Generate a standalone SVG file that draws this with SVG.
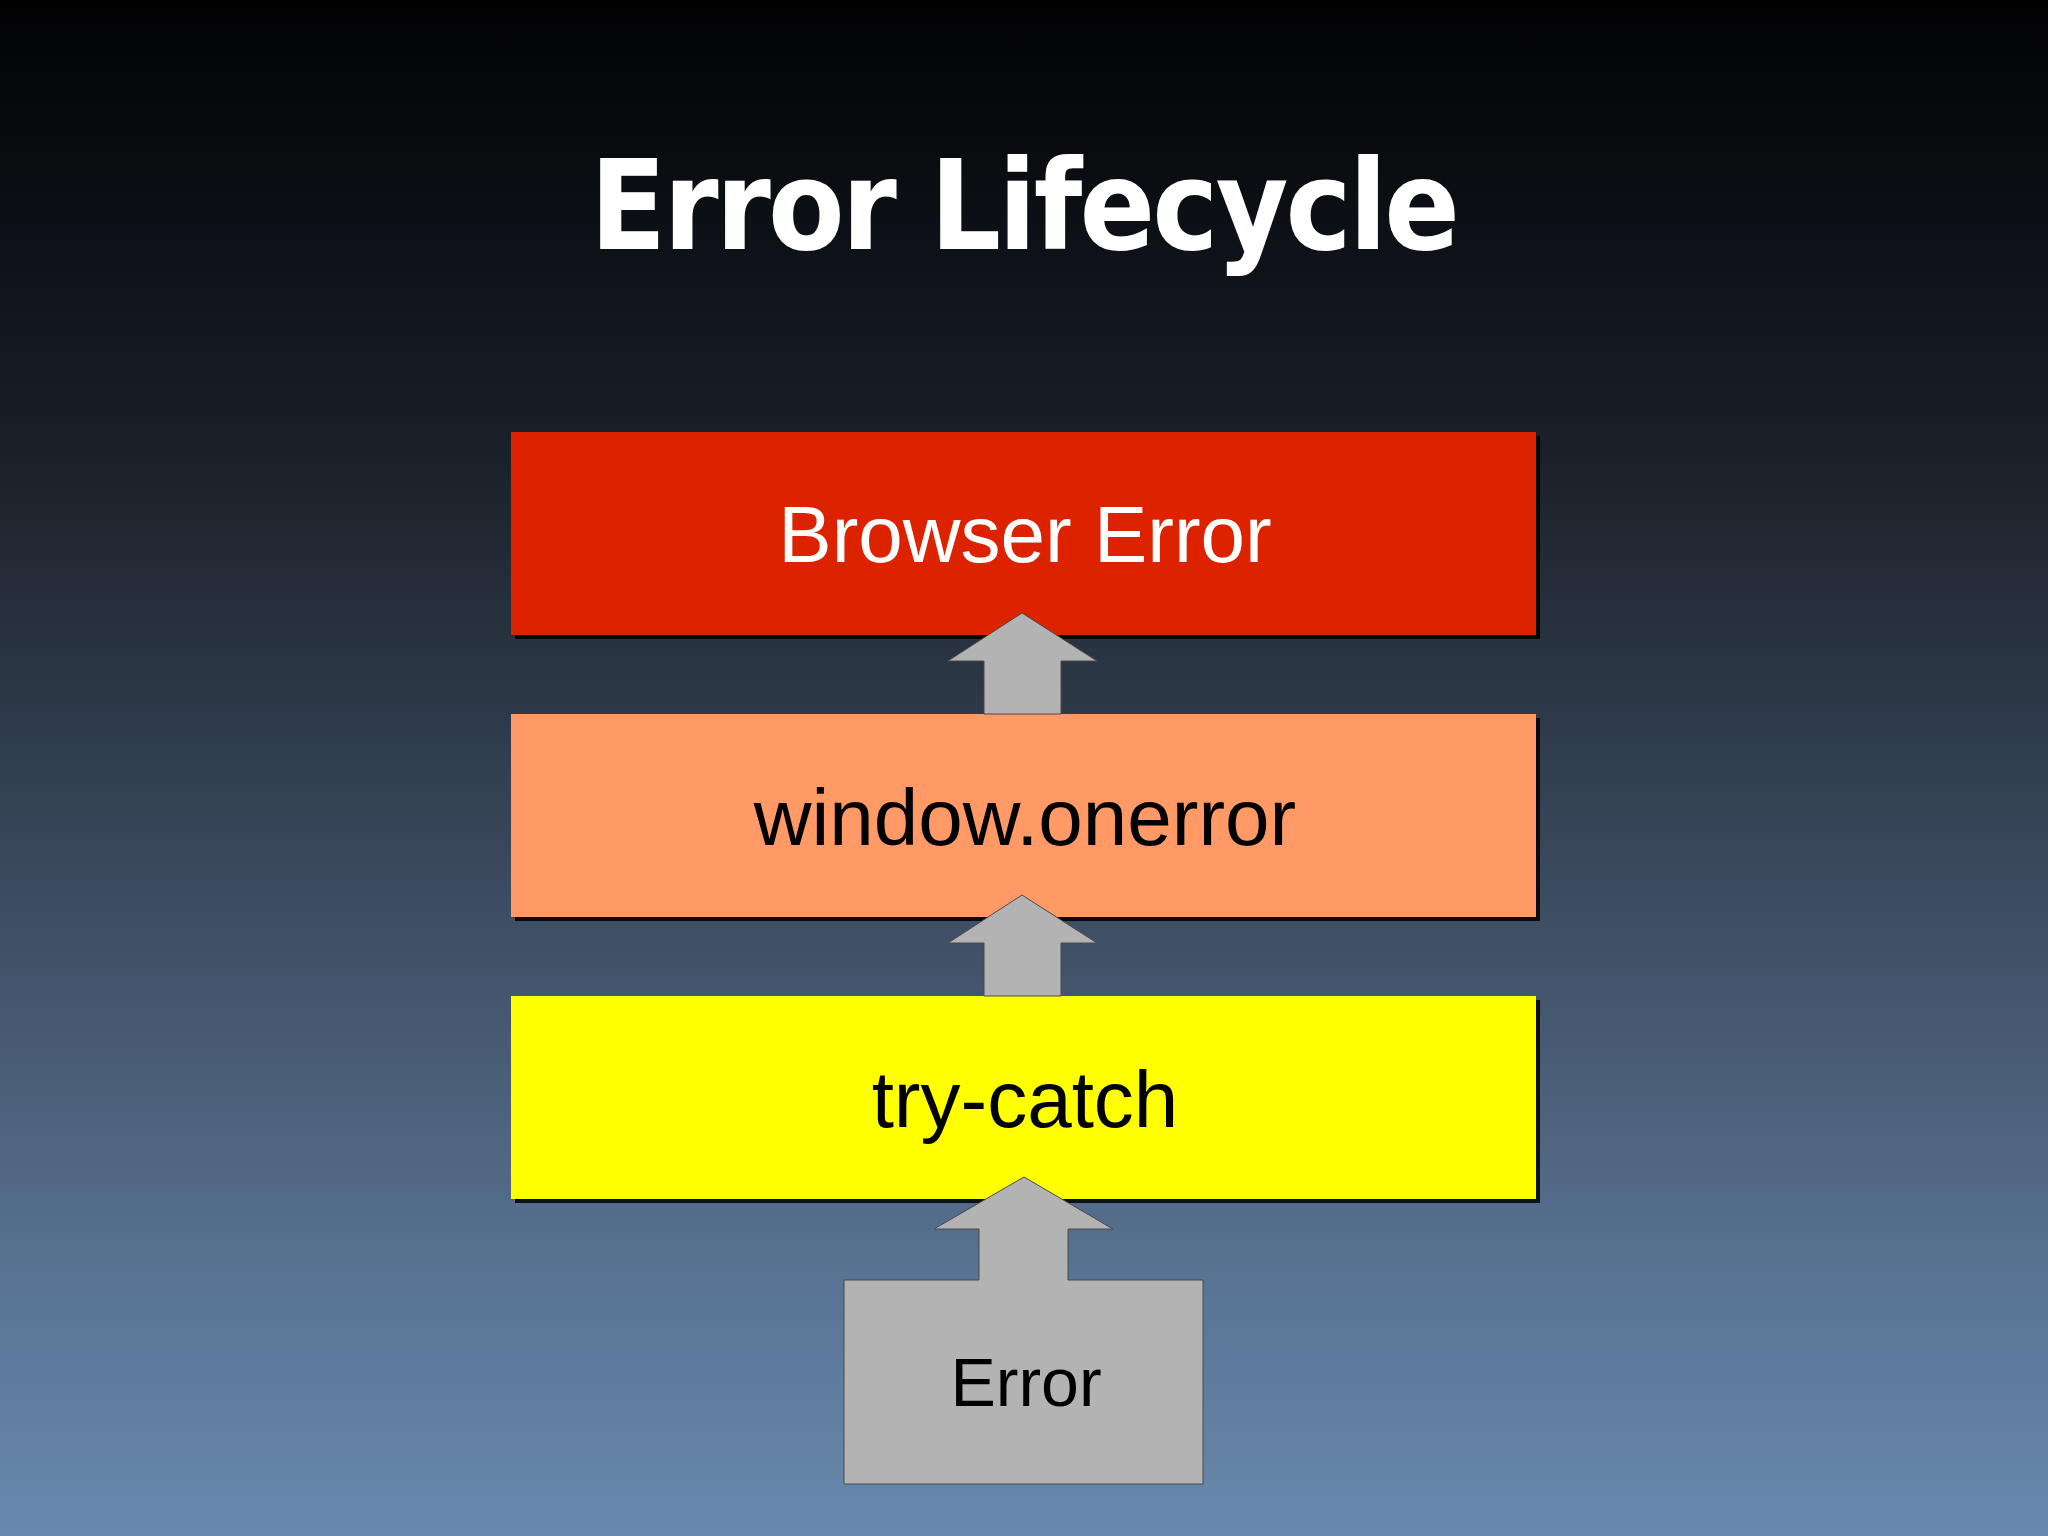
<svg xmlns="http://www.w3.org/2000/svg" width="2048" height="1536" viewBox="0 0 2048 1536">
<defs>
<linearGradient id="bg" x1="0" y1="0" x2="0" y2="1">
<stop offset="0" stop-color="#020203"/>
<stop offset="0.15" stop-color="#0d1016"/>
<stop offset="0.3" stop-color="#1b2129"/>
<stop offset="0.5" stop-color="#323f50"/>
<stop offset="0.7" stop-color="#4a5e77"/>
<stop offset="0.85" stop-color="#5a7697"/>
<stop offset="1" stop-color="#6889ae"/>
</linearGradient>
</defs>
<style>
.shadow{fill:#000;opacity:0.85}
.lbl{font-family:"Liberation Sans",Arial,sans-serif;font-size:80px;text-anchor:middle}
.arrow{fill:#b3b3b3;stroke:#4a4a4a;stroke-width:1}
.title{font-family:"DejaVu Sans Condensed","DejaVu Sans",sans-serif;font-weight:bold;font-size:124px;fill:#fff;text-anchor:middle}
</style>
<rect width="2048" height="1536" fill="url(#bg)"/>
<text class="title" x="1025" y="249" textLength="870" lengthAdjust="spacing">Error Lifecycle</text>
<g id="browser-error">
<rect class="shadow" x="515" y="436" width="1025" height="203"/>
<rect x="511" y="432" width="1025" height="203" fill="#dd2200"/>
<text class="lbl" x="1025" y="562" fill="#ffffff">Browser Error</text>
</g>
<g id="window-onerror">
<rect class="shadow" x="515" y="718" width="1025" height="203"/>
<rect x="511" y="714" width="1025" height="203" fill="#ff9966"/>
<text class="lbl" x="1025" y="845" fill="#000">window.onerror</text>
</g>
<g id="try-catch">
<rect class="shadow" x="515" y="1000" width="1025" height="203"/>
<rect x="511" y="996" width="1025" height="203" fill="#ffff00"/>
<text class="lbl" x="1025" y="1127" fill="#000">try-catch</text>
</g>
<g id="connectors">
<polygon class="arrow" points="1022,613 1097,661 1061,661 1061,714 984,714 984,661 948,661"/>
<polygon class="arrow" points="1022,895 1097,943 1061,943 1061,996 984,996 984,943 948,943"/>
</g>
<g id="error">
<polygon class="arrow" points="1024,1177 1113,1229 1068,1229 1068,1280 1203,1280 1203,1484 844,1484 844,1280 979,1280 979,1229 934,1229" fill="#b3b3b5" stroke="#555"/>
<text class="lbl" x="1026" y="1406" fill="#000" style="font-size:68px">Error</text>
</g>
</svg>
